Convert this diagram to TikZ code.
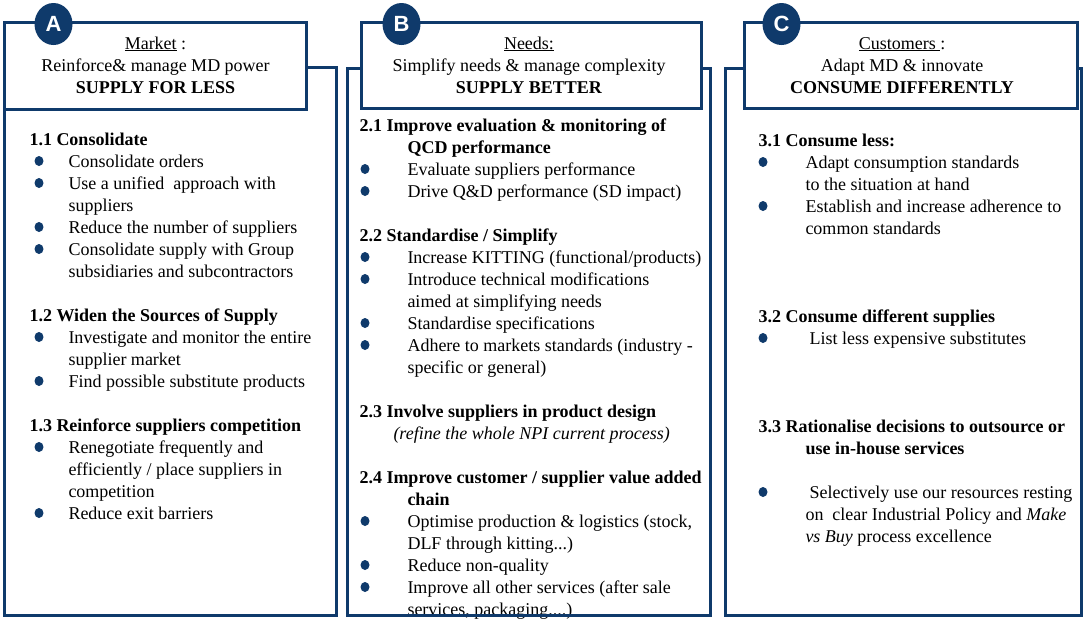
\documentclass[tikz,border=0pt]{standalone}
\usepackage{fontspec}
\setmainfont{Liberation Serif}
\newfontfamily\badgefont{Liberation Sans}
\usepackage{xcolor}
\definecolor{PlanNavy}{HTML}{0F3A6B}
\usepackage{tikz}
\usetikzlibrary{positioning}
\usetikzlibrary{shapes.geometric}

\begin{document}
\begin{tikzpicture}[
    x=1pt, y=-1pt,
    line width = 3pt,
    colBody/.style={rectangle,
    draw=PlanNavy,
    inner sep=0pt},
    colHead/.style={rectangle,
    draw=PlanNavy,
    fill=white,
    inner sep=0pt},
    colBadge/.style={ellipse,
    fill=PlanNavy,
    text=white,
    inner sep=0pt,
    minimum width=38pt,
    minimum height=42pt,
    font=\badgefont\bfseries\fontsize{22}{22}\selectfont},
    headText/.style={align=center, anchor=base, inner sep=0pt, font=\fontsize{18}{22}\selectfont},
    itemText/.style={align=left, anchor=base west, inner sep=0pt, font=\fontsize{18}{22}\selectfont},
    secText/.style={align=left, anchor=base west, inner sep=0pt, font=\fontsize{18}{22}\selectfont\bfseries},
    bulletDot/.style={ellipse, fill=PlanNavy, inner sep=0pt, minimum width=9pt, minimum height=10pt}
    ]
    \useasboundingbox (0,0) rectangle (1085,619);

    % column A (y = baseline of the last line)
    \node[secText] (s11) at (28,145) {1.1 Consolidate};
    \node[itemText] (i11a) at (67,167) {Consolidate orders};
    \node[itemText] (i11b) at (67,211) {Use a unified\ \ approach with\\suppliers};
    \node[itemText] (i11c) at (67,233) {Reduce the number of suppliers};
    \node[itemText] (i11d) at (67,277) {Consolidate supply with Group\\subsidiaries and subcontractors};
    \node[secText] (s12) at (28,321) {1.2 Widen the Sources of Supply};
    \node[itemText] (i12a) at (67,365) {Investigate and monitor the entire\\supplier market};
    \node[itemText] (i12b) at (67,387) {Find possible substitute products};
    \node[secText] (s13) at (28,431) {1.3 Reinforce suppliers competition};
    \node[itemText] (i13a) at (67,497) {Renegotiate frequently and\\efficiently / place suppliers in\\competition};
    \node[itemText] (i13b) at (67,519) {Reduce exit barriers};
    \foreach \y in {161,183,227,249,337,381,447,513}
      \node[bulletDot] (dA\y) at (39,\y) {};

    % column B
    \node[secText] (s21) at (358,153) {2.1 Improve evaluation \& monitoring of\\\hspace*{48pt}QCD performance};
    \node[itemText] (i21a) at (406,175) {Evaluate suppliers performance};
    \node[itemText] (i21b) at (406,197) {Drive Q\&D performance (SD impact)};
    \node[secText] (s22) at (358,241) {2.2 Standardise / Simplify};
    \node[itemText] (i22a) at (406,263) {Increase KITTING (functional/products)};
    \node[itemText] (i22b) at (406,307) {Introduce technical modifications\\aimed at simplifying needs};
    \node[itemText] (i22c) at (406,329) {Standardise specifications};
    \node[itemText] (i22d) at (406,373) {Adhere to markets standards (industry -\\specific or general)};
    \node[secText] (s23) at (358,417) {2.3 Involve suppliers in product design};
    \node[itemText, font=\fontsize{18}{22}\selectfont\itshape] (i23a) at (392,439) {(refine the whole NPI current process)};
    \node[secText] (s24) at (358,505) {2.4 Improve customer / supplier value added\\\hspace*{48pt}chain};
    \node[itemText] (i24a) at (406,549) {Optimise production \& logistics (stock,\\DLF through kitting...)};
    \node[itemText] (i24b) at (406,571) {Reduce non-quality};
    \node[itemText] (i24c) at (406,615) {Improve all other services (after sale\\services, packaging....)};
    \foreach \y in {169,191,257,279,323,345,521,565,587}
      \node[bulletDot] (dB\y) at (365,\y) {};

    % column C
    \node[secText] (s31) at (757,146) {3.1 Consume less:};
    \node[itemText] (i31a) at (804,190) {Adapt consumption standards\\to the situation at hand};
    \node[itemText] (i31b) at (804,234) {Establish and increase adherence to\\common standards};
    \node[secText] (s32) at (757,322) {3.2 Consume different supplies};
    \node[itemText] (i32a) at (808,344) {List less expensive substitutes};
    \node[secText] (s33) at (757,454) {3.3 Rationalise decisions to outsource or\\\hspace*{47pt}use in-house services};
    \node[itemText] (i33a) at (804,542) {\hspace*{4pt}Selectively use our resources resting\\on\ \ clear Industrial Policy and \textit{Make}\\\textit{vs Buy} process excellence};
    \foreach \y in {162,206,338,492}
      \node[bulletDot] (dC\y) at (763,\y) {};

    % frames
    \node[colBody, minimum width=331.5pt, minimum height=547.5pt] (bA) at (170.25,341.25) {};
    \node[colBody, minimum width=363pt, minimum height=547pt] (bB) at (528.5,341.5) {};
    \node[colBody, minimum width=356.5pt, minimum height=547pt] (bC) at (903.25,341.5) {};
    \node[colHead, minimum width=302pt, minimum height=86.5pt] (hA) at (155.5,65.75) {};
    \node[colHead, minimum width=340pt, minimum height=86pt] (hB) at (531,65.5) {};
    \node[colHead, minimum width=333pt, minimum height=86pt] (hC) at (911,65.5) {};

    % header texts
    \node[headText] (tA) at (155.5,93) {\underline{Market} :\\Reinforce\& manage MD power\\\textbf{SUPPLY FOR LESS}};
    \node[headText] (tB) at (529,93) {\underline{Needs:}\\Simplify needs \& manage complexity\\\textbf{SUPPLY BETTER}};
    \node[headText] (tC) at (902,93) {\underline{Customers\ }:\\Adapt MD \& innovate\\\textbf{CONSUME DIFFERENTLY}};

    % badges
    \node[colBadge] (kA) at (53.5,24) {A};
    \node[colBadge] (kB) at (401.5,24) {B};
    \node[colBadge] (kC) at (781.5,24) {C};
  \end{tikzpicture}
\end{document}
